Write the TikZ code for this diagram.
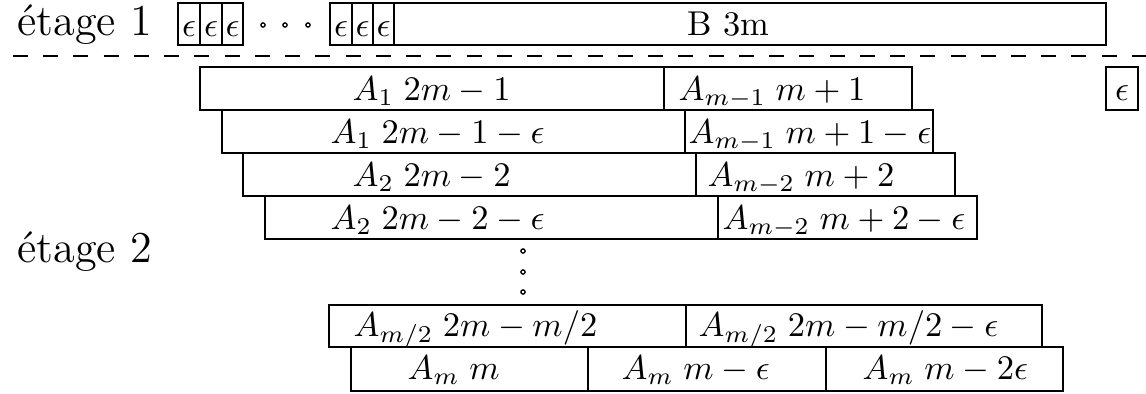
\documentclass[tikz,border=0pt]{standalone}
\usepackage{fontspec}
\tikzset{
  box/.style={draw, line width=0.55pt},
  lbl/.style={anchor=base west, inner sep=0pt},
  epslbl/.style={anchor=base, inner sep=0pt},
  stagelbl/.style={anchor=base west, inner sep=0pt, font=\fontsize{12.8}{15}\selectfont},
  dotc/.style={draw, line width=0.4pt}
}
\begin{document}
\begin{tikzpicture}[x=0.29pt,y=-0.29pt]
\useasboundingbox (0,0) rectangle (1146,394);
% stage labels
\node[stagelbl] (e1) at (17,35) {étage 1};
\node[stagelbl] (e2) at (17,262) {étage 2};
% top row: epsilon boxes
\foreach \a/\b [count=\i] in {178/200,200/222,222/243,330/352,352/373,373/394}{
  \draw[box] (\a,3) rectangle (\b,45);
  \node[epslbl] (te\i) at ({(\a+\b)/2},36) {$\epsilon$};
}
\foreach \x [count=\i] in {263,285,308}{
  \draw[dotc] (\x,25) circle[radius=2.1];
}
\draw[box] (394,3) rectangle (1106,45);
\node[lbl] (B) at (687,35) {B 3m};
% dashed separator
\draw[line width=0.55pt, dash pattern=on 4.35pt off 4.42pt] (13,56) -- (1146,56);
% row 1
\draw[box] (200,67) rectangle (664,110);
\draw[box] (664,67) rectangle (912,110);
\node[lbl] (r1a) at (352,100) {$A_1\;2m-1$};
\node[lbl] (r1b) at (678,100) {$A_{m-1}\;m+1$};
\draw[box] (1106,67) rectangle (1138,110);
\node[epslbl] (r1e) at (1122,100) {$\epsilon$};
% row 2
\draw[box] (222,110) rectangle (685,153);
\draw[box] (685,110) rectangle (933,153);
\node[lbl] (r2a) at (330,143) {$A_1\;2m-1-\epsilon$};
\node[lbl] (r2b) at (688,143) {$A_{m-1}\;m+1-\epsilon$};
% row 3
\draw[box] (243,153) rectangle (696,196);
\draw[box] (696,153) rectangle (955,196);
\node[lbl] (r3a) at (352,186) {$A_2\;2m-2$};
\node[lbl] (r3b) at (707,186) {$A_{m-2}\;m+2$};
% row 4
\draw[box] (265,196) rectangle (718,239);
\draw[box] (718,196) rectangle (977,239);
\node[lbl] (r4a) at (330,229) {$A_2\;2m-2-\epsilon$};
\node[lbl] (r4b) at (722,229) {$A_{m-2}\;m+2-\epsilon$};
% vertical dots
\foreach \y in {251,272,292}{
  \draw[dotc] (523,\y) circle[radius=2.1];
}
% row 5
\draw[box] (329,305) rectangle (686,347);
\draw[box] (686,305) rectangle (1042,347);
\node[lbl] (r5a) at (353,336) {$A_{m/2}\;2m-m/2$};
\node[lbl] (r5b) at (698,336) {$A_{m/2}\;2m-m/2-\epsilon$};
% row 6
\draw[box] (351,347) rectangle (588,391);
\draw[box] (588,347) rectangle (826,391);
\draw[box] (826,347) rectangle (1063,391);
\node[lbl] (r6a) at (407,379) {$A_m\;m$};
\node[lbl] (r6b) at (621,379) {$A_m\;m-\epsilon$};
\node[lbl] (r6c) at (862,379) {$A_m\;m-2\epsilon$};
\end{tikzpicture}
\end{document}
